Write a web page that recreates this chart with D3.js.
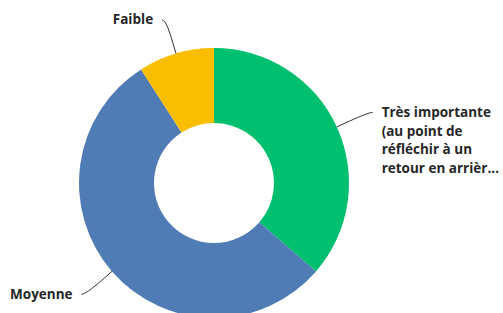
<!DOCTYPE html>
<html>
<head>
<meta charset="utf-8">
<script src="https://cdn.jsdelivr.net/npm/d3@7"></script>
<style>
  body { margin: 0; background: #fff; }
  .label { font-family: "Open Sans", sans-serif; font-weight: 700; font-size: 13.5px; fill: #262626; }
</style>
</head>
<body>
<div id="main"></div>
<script>
const width = 503;
const height = 313;

// slices in drawing order, clockwise from the top
const categories = ["Très importante (au point de réfléchir à un retour en arrièr...", "Moyenne", "Faible"];
const labelLines = [
  ["Très importante", "(au point de", "réfléchir à un", "retour en arrièr..."],
  ["Moyenne"],
  ["Faible"],
];
const values = [4, 6, 1];
const colors = ["#00bf6f", "#507cb6", "#f9be00"];

const cx = 214;
const cy = 183;
const outerR = 135;
const innerR = 60;
const labelR = 170;

let svg = d3
  .select("#main")
  .append("svg")
  .attr("width", width)
  .attr("height", height);

const pie = d3.pie().sort(null).value((d) => d);
const arcs = pie(values);
const arc = d3.arc().innerRadius(innerR).outerRadius(outerR);

let g = svg.append("g").attr("transform", `translate(${cx},${cy})`);

g.selectAll(".slice")
  .data(arcs)
  .enter()
  .append("path")
  .attr("class", "slice")
  .attr("d", arc)
  .attr("fill", (d, i) => colors[i]);

// point on a circle of radius r at angle a (0 = top, clockwise)
function polar(a, r) {
  return [Math.sin(a) * r, -Math.cos(a) * r];
}

arcs.forEach((d, i) => {
  const mid = (d.startAngle + d.endAngle) / 2;
  const right = Math.sin(mid) > 0;
  const base = polar(mid, outerR);
  const brk = polar(mid, outerR + 10);
  const lab = polar(mid, labelR);
  const sx = lab[0] + (right ? 4 : -4);
  const tx = lab[0] + (right ? 13 : -13);

  // soft connector from the label to the slice edge
  g.append("path")
    .attr(
      "d",
      "M" + sx + "," + lab[1] +
        "C" + lab[0] + "," + lab[1] + " " +
        (2 * brk[0] - base[0]) + "," + (2 * brk[1] - base[1]) + " " +
        brk[0] + "," + brk[1] +
        "L" + base[0] + "," + base[1]
    )
    .attr("fill", "none")
    .attr("stroke", "#333")
    .attr("stroke-width", 1);

  let text = g
    .append("text")
    .attr("class", "label")
    .attr("text-anchor", right ? "start" : "end")
    .attr("x", tx)
    .attr("y", lab[1] + 4.5);

  labelLines[i].forEach((line, j) => {
    text
      .append("tspan")
      .attr("x", tx)
      .attr("dy", j === 0 ? 0 : 18.8)
      .text(line);
  });
});
</script>
</body>
</html>
